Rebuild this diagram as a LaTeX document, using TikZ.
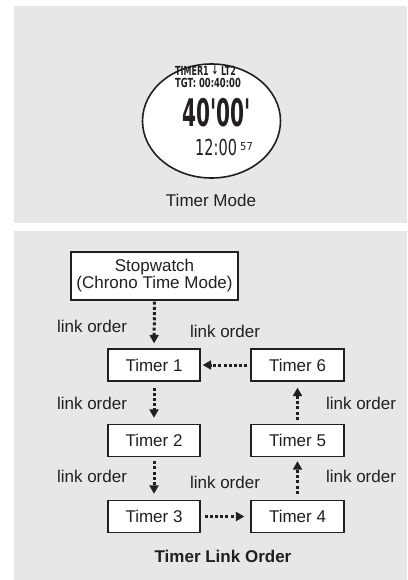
\documentclass[tikz,border=0pt]{standalone}
\usepackage{fontspec}
\setmainfont{Liberation Sans}
\newfontfamily\lcd{DejaVu Sans}
\usetikzlibrary{arrows.meta}
\definecolor{panelgrey}{HTML}{E6E7E8}
\definecolor{ink}{HTML}{231F20}
\tikzset{
  panel/.style={fill=panelgrey, draw=none},
  box/.style={draw=ink, line width=1.3pt, fill=white, text=ink, font=\fontsize{17}{17}\selectfont, align=center, inner sep=0pt},
  lbl/.style={text=ink, font=\fontsize{17}{17}\selectfont, inner sep=0pt},
  linkarrow/.style={draw=ink, line width=3pt, dash pattern=on 3pt off 2.2pt, -{Triangle[width=9pt,length=8.5pt]}},
  lcdtxt/.style={text=ink, inner sep=0pt}
}
\begin{document}
\begin{tikzpicture}[x=1pt,y=-1pt]
\useasboundingbox (0,0) rectangle (407,580);
% panels
\fill[panel] (14,6) rectangle (407,223);
\fill[panel] (14,231) rectangle (407,580);
% watch face
\draw[draw=ink, line width=1.6pt, fill=white] (211.5,121) ellipse [x radius=69, y radius=57];
\node[lcdtxt, anchor=base west] (l1) at (175,75.5) {\scalebox{0.64}[1]{\fontsize{12.5}{12}\lcd\bfseries TIMER1 \raisebox{0.6pt}{↓} LT2}};
\node[lcdtxt, anchor=base west] (l2) at (175,87.5) {\scalebox{0.67}[1]{\fontsize{12.5}{12}\lcd\bfseries TGT: 00:40:00}};
\node[lcdtxt, anchor=base west] (big) at (182,127) {\scalebox{0.53}[1]{\fontsize{38}{38}\lcd\bfseries 40'00'}};
\node[lcdtxt, anchor=base west] (clock) at (195,156) {\scalebox{0.66}[1]{\fontsize{22}{22}\lcd 12:00}};
\node[lcdtxt, anchor=base west] (sec) at (240,150) {\scalebox{0.9}[1]{\fontsize{11}{11}\lcd 57}};
\node[lbl] (mode) at (211,200) {Timer Mode};
% link order diagram
\node[box, minimum width=167pt, minimum height=48pt] (sw) at (154.5,276) {Stopwatch\\(Chrono Time Mode)};
\node[box, minimum width=92pt, minimum height=32pt] (t1) at (154,365) {Timer 1};
\node[box, minimum width=92pt, minimum height=32pt] (t2) at (154,440.5) {Timer 2};
\node[box, minimum width=92pt, minimum height=32pt] (t3) at (154,516.5) {Timer 3};
\node[box, minimum width=93pt, minimum height=32pt] (t4) at (297.5,516.5) {Timer 4};
\node[box, minimum width=93pt, minimum height=32pt] (t5) at (297.5,440.5) {Timer 5};
\node[box, minimum width=93pt, minimum height=32pt] (t6) at (297.5,365) {Timer 6};
\draw[linkarrow, shorten <=1pt, shorten >=5pt] (sw.south) -- (t1.north);
\draw[linkarrow, shorten <=6pt, shorten >=6pt] (t1.south) -- (t2.north);
\draw[linkarrow, shorten <=4pt, shorten >=6pt] (t2.south) -- (t3.north);
\draw[linkarrow, shorten <=4pt, shorten >=6pt] (t3.east) -- (t4.west);
\draw[linkarrow, shorten <=6pt, shorten >=4pt] (t4.north) -- (t5.south);
\draw[linkarrow, shorten <=4pt, shorten >=6pt] (t5.north) -- (t6.south);
\draw[linkarrow, shorten <=3pt, shorten >=2pt] (t6.west) -- (t1.east);
\node[lbl] (a1) at (92,326) {link order};
\node[lbl] (a2) at (225,331) {link order};
\node[lbl] (a3) at (92,403) {link order};
\node[lbl] (a4) at (361,403) {link order};
\node[lbl] (a5) at (92,476) {link order};
\node[lbl] (a6) at (225,482) {link order};
\node[lbl] (a7) at (361,476) {link order};
\node[lbl, font=\fontsize{17}{17}\selectfont\bfseries] (title) at (223,556) {Timer Link Order};
\end{tikzpicture}
\end{document}
